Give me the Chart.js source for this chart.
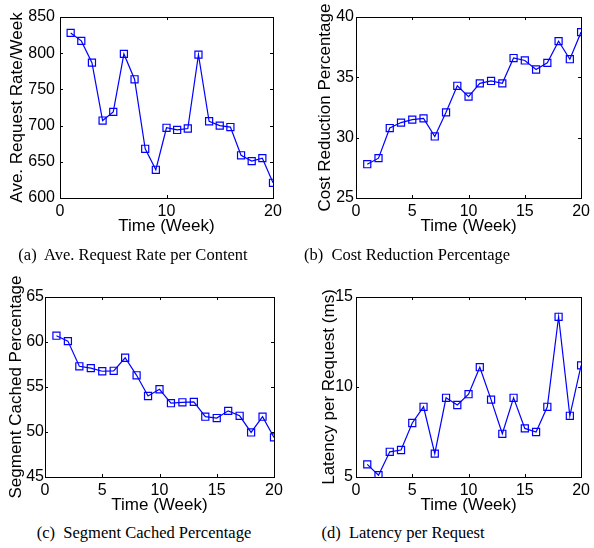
<!DOCTYPE html>
<html>
<head>
<meta charset="utf-8">
<script src="https://cdn.jsdelivr.net/npm/chart.js@4/dist/chart.umd.min.js"></script>
<style>
  body { margin: 0; background: #fff; width: 594px; height: 548px; position: relative; overflow: hidden; }
  canvas { position: absolute; }
  .cap { position: absolute; font-family: "Liberation Serif", "Times New Roman", serif; font-size: 16.5px; color: #000; white-space: nowrap; transform: translateX(-50%); }
</style>
</head>
<body>
<canvas id="ca" width="297" height="240" style="left:0;top:0"></canvas>
<canvas id="cb" width="297" height="240" style="left:297px;top:0"></canvas>
<canvas id="cc" width="297" height="270" style="left:0;top:250px"></canvas>
<canvas id="cd" width="297" height="270" style="left:297px;top:250px"></canvas>
<div class="cap" style="left:133px;top:245px">(a)&nbsp; Ave. Request Rate per Content</div>
<div class="cap" style="left:407px;top:245px">(b)&nbsp; Cost Reduction Percentage</div>
<div class="cap" style="left:144px;top:523px">(c)&nbsp; Segment Cached Percentage</div>
<div class="cap" style="left:403px;top:523px">(d)&nbsp; Latency per Request</div>
<script>
var weeks = [1,2,3,4,5,6,7,8,9,10,11,12,13,14,15,16,17,18,19,20];

var requestRate = [828,817,787,707,719,799,764,668,639,697,694,696,798,706,700,698,659,651,655,621];
var costReduction = [27.8,28.3,30.8,31.25,31.5,31.6,30.1,32.1,34.3,33.4,34.5,34.7,34.5,36.6,36.4,35.65,36.2,38.0,36.5,38.75];
var segmentCached = [60.7,60.1,57.3,57.1,56.75,56.8,58.25,56.3,54.0,54.75,53.2,53.3,53.35,51.7,51.55,52.35,51.8,49.95,51.7,49.4];
var latency = [5.7,5.1,6.4,6.5,8.0,8.9,6.3,9.4,9.0,9.6,11.1,9.3,7.4,9.4,7.7,7.5,8.9,13.9,8.4,11.2];

var blue = "#0000ff";
var font = "'Liberation Sans', Arial, Helvetica, sans-serif";

// MATLAB style box with small inward ticks
var boxPlugin = {
  id: 'box',
  afterDraw: function(chart) {
    var ctx = chart.ctx, a = chart.chartArea;
    var xs = chart.scales.x, ys = chart.scales.y;
    ctx.save();
    ctx.strokeStyle = "#000";
    ctx.lineWidth = 1;
    ctx.strokeRect(Math.round(a.left) + 0.5, Math.round(a.top) + 0.5, Math.round(a.right - a.left), Math.round(a.bottom - a.top));
    ctx.beginPath();
    xs.ticks.forEach(function(t) {
      var px = Math.round(xs.getPixelForValue(t.value)) + 0.5;
      ctx.moveTo(px, a.bottom); ctx.lineTo(px, a.bottom - 3);
      ctx.moveTo(px, a.top); ctx.lineTo(px, a.top + 3);
    });
    ys.ticks.forEach(function(t) {
      var py = Math.round(ys.getPixelForValue(t.value)) + 0.5;
      ctx.moveTo(a.left, py); ctx.lineTo(a.left + 3, py);
      ctx.moveTo(a.right, py); ctx.lineTo(a.right - 3, py);
    });
    ctx.stroke();
    ctx.restore();
  }
};

function makeChart(id, h, values, yTitle, yMin, yMax, yStep, xStep, area, titlePad, tickPad) {
  new Chart(id, {
    type: 'line',
    data: {
      datasets: [{
        data: weeks.map(function(w, i) { return {x: w, y: values[i]}; }),
        borderColor: blue,
        borderWidth: 1.2,
        pointStyle: 'rect',
        pointRadius: 5,
        pointBorderColor: blue,
        pointBackgroundColor: 'rgba(0,0,0,0)',
        pointBorderWidth: 1.2,
        fill: false,
        tension: 0
      }]
    },
    plugins: [boxPlugin],
    options: {
      responsive: false,
      animation: false,
      layout: { padding: { left: 0, top: area.top, right: 297 - area.right, bottom: h - area.bottom - 39 } },
      plugins: { legend: { display: false }, tooltip: { enabled: false } },
      scales: {
        x: {
          type: 'linear', min: 0, max: 20,
          grid: { display: false, drawTicks: false },
          border: { display: false },
          ticks: { stepSize: xStep, color: '#000', padding: 4, font: { family: font, size: 16 } },
          title: { display: true, text: 'Time (Week)', color: '#000', padding: 0, font: { family: font, size: 17 } },
          afterFit: function(s) { s.height = 39; }
        },
        y: {
          min: yMin, max: yMax,
          grid: { display: false, drawTicks: false },
          border: { display: false },
          ticks: { stepSize: yStep, color: '#000', padding: tickPad, font: { family: font, size: 16 } },
          title: { display: true, text: yTitle, color: '#000', padding: { top: titlePad, bottom: 0 }, font: { family: font, size: 17 } },
          afterFit: function(s) { s.width = area.left; }
        }
      }
    }
  });
}

makeChart('ca', 240, requestRate, 'Ave. Request Rate/Week', 600, 850, 50, 10, {left: 60, right: 273, top: 17, bottom: 198}, 7, 5);
makeChart('cb', 240, costReduction, 'Cost Reduction Percentage', 25, 40, 5, 5, {left: 59, right: 287, top: 17, bottom: 198}, 18, 2);
makeChart('cc', 270, segmentCached, 'Segment Cached Percentage', 45, 65, 5, 5, {left: 45, right: 274, top: 47, bottom: 227}, 6, 1);
makeChart('cd', 270, latency, 'Latency per Request (ms)', 5, 15, 5, 5, {left: 59, right: 287, top: 47, bottom: 227}, 22, 3);
</script>
</body>
</html>
